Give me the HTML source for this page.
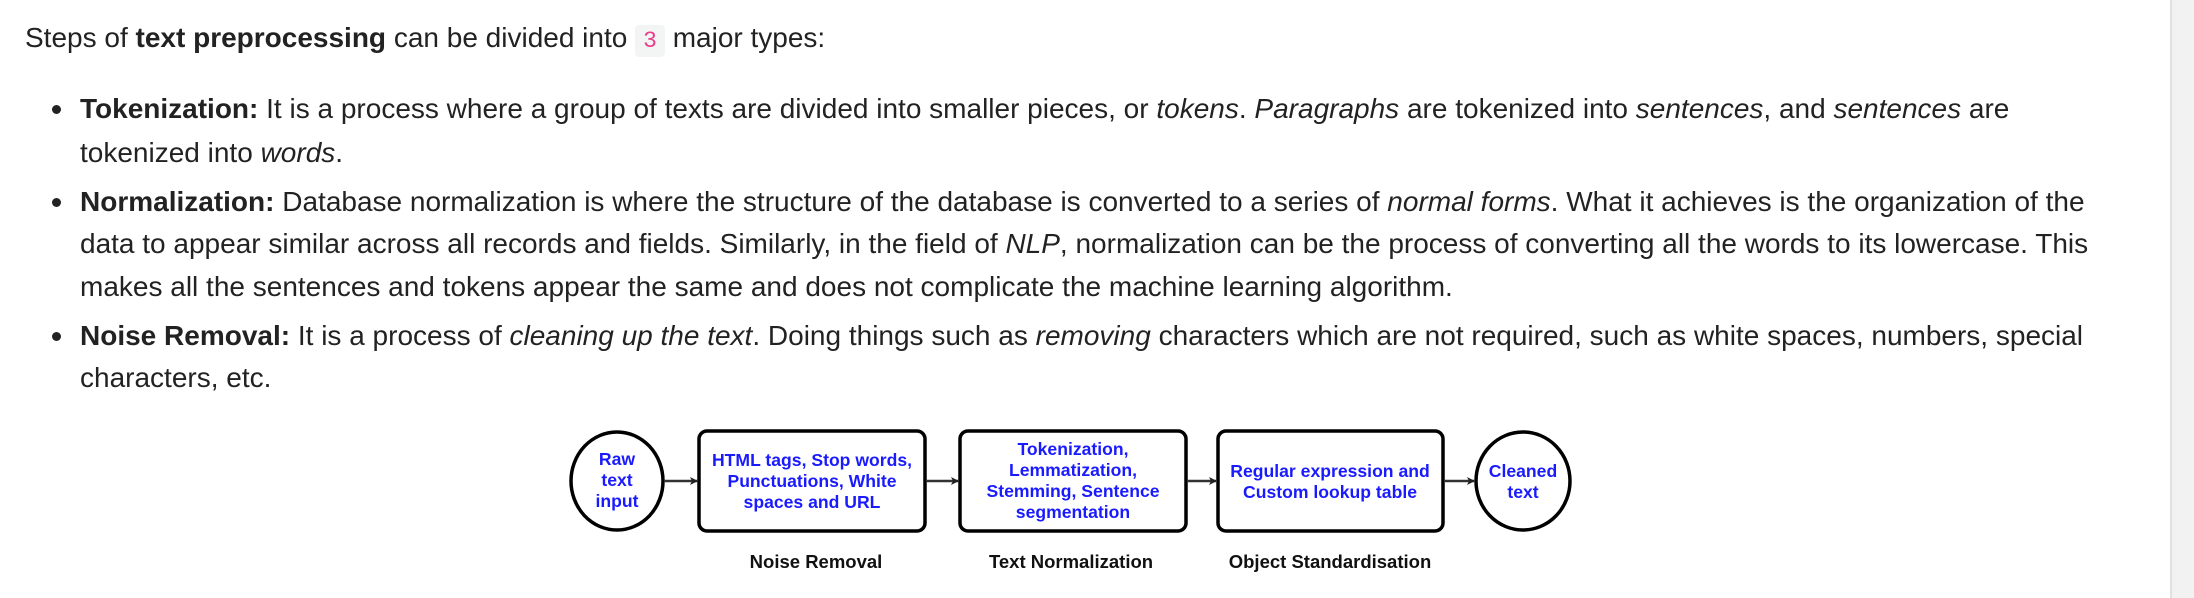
<!DOCTYPE html>
<html><head><meta charset="utf-8">
<style>
html,body{margin:0;padding:0;background:#fff;}
body{width:2194px;height:598px;position:relative;overflow:hidden;font-family:"Liberation Sans",Arial,sans-serif;color:#222;}
.l{position:absolute;font-size:28px;line-height:30px;white-space:nowrap;}
.b{position:absolute;width:9px;height:9px;border-radius:50%;background:#222;left:52px;}
code{font-family:"Liberation Mono",monospace;font-size:23px;color:#e83e8c;background:#f3f4f4;padding:3px 8px;border-radius:4px;}
.sb{position:absolute;left:2170px;top:0;width:24px;height:598px;background:#f2f2f2;border-left:2px solid #e0e0e0;}
</style></head><body>
<div class="l" style="left:25px;top:23px">Steps of <b>text preprocessing</b> can be divided into <code>3</code> major types:</div>

<div class="b" style="top:105px"></div>
<div class="l" style="left:80px;top:94px"><b>Tokenization:</b> It is a process where a group of texts are divided into smaller pieces, or <i>tokens</i>. <i>Paragraphs</i> are tokenized into <i>sentences</i>, and <i>sentences</i> are</div>
<div class="l" style="left:80px;top:138px">tokenized into <i>words</i>.</div>

<div class="b" style="top:198px"></div>
<div class="l" style="left:80px;top:187px"><b>Normalization:</b> Database normalization is where the structure of the database is converted to a series of <i>normal forms</i>. What it achieves is the organization of the</div>
<div class="l" style="left:80px;top:229px">data to appear similar across all records and fields. Similarly, in the field of <i>NLP</i>, normalization can be the process of converting all the words to its lowercase. This</div>
<div class="l" style="left:80px;top:272px">makes all the sentences and tokens appear the same and does not complicate the machine learning algorithm.</div>

<div class="b" style="top:332px"></div>
<div class="l" style="left:80px;top:321px"><b>Noise Removal:</b> It is a process of <i>cleaning up the text</i>. Doing things such as <i>removing</i> characters which are not required, such as white spaces, numbers, special</div>
<div class="l" style="left:80px;top:363px">characters, etc.</div>

<div class="sb"></div>

<svg style="position:absolute;left:0;top:0" width="2194" height="598" xmlns="http://www.w3.org/2000/svg">
<defs><marker id="a" markerWidth="8" markerHeight="8" refX="7" refY="4" orient="auto" markerUnits="userSpaceOnUse"><path d="M0,0 L8,4 L0,8 L2,4z" fill="#222"/></marker></defs>
<g fill="#fff" stroke="#000" stroke-width="3.5">
<ellipse cx="617" cy="481" rx="46" ry="49"/>
<rect x="699" y="431" width="226" height="100" rx="8"/>
<rect x="960" y="431" width="226" height="100" rx="8"/>
<rect x="1218" y="431" width="225" height="100" rx="8"/>
<ellipse cx="1523" cy="481" rx="47" ry="49"/>
</g>
<g stroke="#333" stroke-width="2.5" marker-end="url(#a)">
<line x1="664" y1="481" x2="697" y2="481"/>
<line x1="926" y1="481" x2="958" y2="481"/>
<line x1="1187" y1="481" x2="1216" y2="481"/>
<line x1="1444" y1="481" x2="1474" y2="481"/>
</g>
<g font-family="Liberation Sans,Arial,sans-serif" font-size="17.6" font-weight="bold" fill="#1a1aff" text-anchor="middle">
<text x="617" y="465">Raw</text><text x="617" y="486">text</text><text x="617" y="507">input</text>
<text x="812" y="466">HTML tags, Stop words,</text><text x="812" y="487">Punctuations, White</text><text x="812" y="508">spaces and URL</text>
<text x="1073" y="455">Tokenization,</text><text x="1073" y="476">Lemmatization,</text><text x="1073" y="497">Stemming, Sentence</text><text x="1073" y="518">segmentation</text>
<text x="1330" y="477">Regular expression and</text><text x="1330" y="498">Custom lookup table</text>
<text x="1523" y="477">Cleaned</text><text x="1523" y="498">text</text>
</g>
<g font-family="Liberation Sans,Arial,sans-serif" font-size="18.5" font-weight="bold" fill="#111" text-anchor="middle">
<text x="816" y="568">Noise Removal</text>
<text x="1071" y="568">Text Normalization</text>
<text x="1330" y="568">Object Standardisation</text>
</g>
</svg>
</body></html>
